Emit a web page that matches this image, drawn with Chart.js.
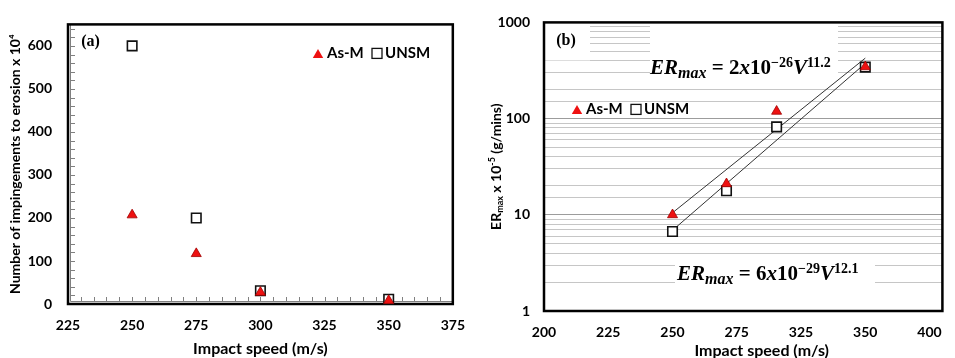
<!DOCTYPE html>
<html lang="en">
  <head>
    <meta charset="UTF-8" />
    <title>Impingements to erosion and maximum erosion rate vs impact speed</title>
    <script src="https://cdn.jsdelivr.net/npm/chart.js"></script>
    <style>
      body {
        margin: 0;
        background-color: #fff;
      }
      .figure {
        position: relative;
        width: 955px;
        height: 358px;
      }
      #chartA {
        position: absolute;
        left: 0;
        top: 0;
      }
      #chartB {
        position: absolute;
        left: 480px;
        top: 0;
      }
    </style>
  </head>
  <body>
    <div class="figure">
      <canvas id="chartA" width="478" height="358"></canvas>
      <canvas id="chartB" width="475" height="358"></canvas>
    </div>

    <script>
      // Panel (a): number of impingements to erosion (x 10^4)
      const speedsA = [250, 275, 300, 350];
      const asmImpingements = [207, 117, 27, 8];
      const unsmImpingements = [600, 200, 31, 11];

      // Panel (b): maximum erosion rate (x 10^-5 g/min)
      const speedTicksB = [200, 225, 250, 275, 325, 350, 400];
      const speedsB = [250, 271, 306, 350];
      const asmErMax = [10, 21, 119, 345];
      const unsmErMax = [6.7, 17.8, 82, 343];

      // Power-law fits, drawn between their end points
      const fitSpeeds = [250, 350];
      const asmFit = [10.5, 425];
      const unsmFit = [6.9, 375];

      const sans = "Lato, 'Open Sans', sans-serif";
      const serif = "'Liberation Serif', 'DejaVu Serif', serif";
      Chart.defaults.font.family = sans;
      Chart.defaults.color = "#000";

      const tickFont = { family: sans, size: 14, weight: "bold" };
      const xTitleFont = { family: sans, size: 16, weight: "bold" };
      const yTitleFont = { family: sans, size: 14, weight: "bold" };

      const asmStyle = {
        pointStyle: "triangle",
        pointRadius: 5.8,
        pointBackgroundColor: "#ee1111",
        pointBorderColor: "#a00000",
        pointBorderWidth: 0.8
      };
      const unsmStyle = {
        pointStyle: "rect",
        pointRadius: 6.7,
        pointBackgroundColor: "#fff",
        pointBorderColor: "#111",
        pointBorderWidth: 1.6
      };

      function toPoints(xs, ys) {
        return xs.map((x, i) => ({ x: x, y: ys[i] }));
      }

      // The speed axis of panel (b) is labelled at uneven steps, so speeds are
      // placed between neighbouring labels.
      function speedToSlot(v) {
        for (let i = 0; i < speedTicksB.length - 1; i++) {
          if (v <= speedTicksB[i + 1]) {
            return i + (v - speedTicksB[i]) / (speedTicksB[i + 1] - speedTicksB[i]);
          }
        }
        return speedTicksB.length - 1;
      }

      function toSlotPoints(xs, ys) {
        return xs.map((x, i) => ({ x: speedToSlot(x), y: ys[i] }));
      }

      function isDecade(v) {
        const l = Math.log10(v);
        return Math.abs(l - Math.round(l)) < 1e-9;
      }

      // Draw a run of text pieces with their own fonts and baseline shifts
      function drawParts(ctx, x, y, parts, center) {
        let total = 0;
        parts.forEach(p => {
          ctx.font = p.font;
          p.w = ctx.measureText(p.t).width;
          total += p.w;
        });
        let cx = center ? x - total / 2 : x;
        ctx.textAlign = "left";
        parts.forEach(p => {
          ctx.font = p.font;
          ctx.fillText(p.t, cx, y + (p.dy || 0));
          cx += p.w;
        });
      }

      function drawTriangle(ctx, x, y, r) {
        ctx.beginPath();
        for (let k = 0; k < 3; k++) {
          const a = (k * 2 * Math.PI) / 3;
          const px = x + Math.sin(a) * r;
          const py = y - Math.cos(a) * r;
          if (k === 0) ctx.moveTo(px, py);
          else ctx.lineTo(px, py);
        }
        ctx.closePath();
        ctx.fillStyle = "#ee1111";
        ctx.fill();
      }

      function drawSquare(ctx, x, y, s) {
        ctx.lineWidth = 1.3;
        ctx.strokeStyle = "#111";
        ctx.strokeRect(x - s / 2, y - s / 2, s, s);
      }

      function drawLegend(ctx, x, y) {
        ctx.save();
        drawTriangle(ctx, x, y + 1.5, 6);
        ctx.fillStyle = "#000";
        ctx.font = "bold 15px " + sans;
        ctx.textBaseline = "middle";
        ctx.textAlign = "left";
        ctx.fillText("As-M", x + 9, y);
        drawSquare(ctx, x + 59, y, 10);
        ctx.fillStyle = "#000";
        ctx.fillText("UNSM", x + 67, y);
        ctx.restore();
      }

      function drawPanelLabel(ctx, text, x, y) {
        ctx.save();
        ctx.fillStyle = "#000";
        ctx.font = "bold 16px " + serif;
        ctx.textAlign = "center";
        ctx.textBaseline = "middle";
        ctx.fillText(text, x, y);
        ctx.restore();
      }

      // Frame, inner axis lines and inward minor ticks for panel (a)
      const panelA = {
        id: "panelA",
        beforeDatasetsDraw(chart) {
          const { ctx, chartArea: a, scales } = chart;
          ctx.save();
          ctx.strokeStyle = "#808080";
          ctx.lineWidth = 1;
          ctx.beginPath();
          ctx.moveTo(a.left + 2.5, a.top);
          ctx.lineTo(a.left + 2.5, a.bottom - 2.5);
          ctx.lineTo(a.right, a.bottom - 2.5);
          for (let v = 20; v < 650; v += 20) {
            const py = Math.round(scales.y.getPixelForValue(v)) + 0.5;
            ctx.moveTo(a.left + 2.5, py);
            ctx.lineTo(a.left + 7, py);
          }
          for (let v = 230; v < 375; v += 5) {
            const px = Math.round(scales.x.getPixelForValue(v)) + 0.5;
            ctx.moveTo(px, a.bottom - 2.5);
            ctx.lineTo(px, a.bottom - 7);
          }
          ctx.stroke();
          ctx.strokeStyle = "#000";
          ctx.lineWidth = 2.5;
          ctx.strokeRect(a.left, a.top, a.right - a.left, a.bottom - a.top);
          ctx.restore();
        },
        afterDraw(chart) {
          const { ctx, chartArea: a } = chart;
          drawPanelLabel(ctx, "(a)", a.left + 22.5, a.top + 17);
          drawLegend(ctx, a.left + 250, a.top + 29);
        }
      };

      const eqItalic = s => "italic bold " + s + "px " + serif;
      const eqUpright = s => "bold " + s + "px " + serif;

      function equationParts(coef, exp, power) {
        return [
          { t: "ER", font: eqItalic(21) },
          { t: "max", font: eqItalic(16), dy: 4 },
          { t: " = " + coef, font: eqUpright(21) },
          { t: "x", font: eqItalic(21) },
          { t: "10", font: eqUpright(21) },
          { t: exp, font: eqUpright(14), dy: -7 },
          { t: "V", font: eqItalic(21) },
          { t: power, font: eqUpright(14), dy: -7 }
        ];
      }

      // White panels, label, fitted equations, frame and titles for panel (b)
      const panelB = {
        id: "panelB",
        beforeDatasetsDraw(chart) {
          const { ctx, chartArea: a } = chart;
          ctx.save();
          ctx.fillStyle = "#fff";
          ctx.fillRect(a.left + 1, a.top + 1, 45, 37);
          ctx.fillRect(a.left + 106, a.top + 1, 188, 57);
          ctx.fillRect(a.left + 131, a.top + 233, 200, 60);

          ctx.fillStyle = "#000";
          ctx.textBaseline = "alphabetic";
          drawParts(ctx, a.left + 106, a.top + 51.5, equationParts("2", "\u221226", "11.2"));
          drawParts(ctx, a.left + 133, a.top + 257.7, equationParts("6", "\u221229", "12.1"));

          ctx.strokeStyle = "#000";
          ctx.lineWidth = 2.5;
          ctx.strokeRect(a.left, a.top, a.right - a.left, a.bottom - a.top);
          ctx.restore();
          drawPanelLabel(ctx, "(b)", a.left + 22, a.top + 18);
        },
        afterDraw(chart) {
          const { ctx, chartArea: a } = chart;
          drawLegend(ctx, a.left + 33, a.top + 87);

          ctx.save();
          ctx.fillStyle = "#000";
          ctx.textBaseline = "middle";
          ctx.font = "bold 16px " + sans;
          ctx.textAlign = "center";
          ctx.fillText("Impact speed (m/s)", 281.7, 350.5);

          ctx.translate(16.7, (a.top + a.bottom) / 2);
          ctx.rotate(-Math.PI / 2);
          drawParts(
            ctx,
            0,
            0,
            [
              { t: "ER", font: "bold 14px " + sans },
              { t: "max", font: "bold 9px " + sans, dy: 3.5 },
              { t: " x 10", font: "bold 14px " + sans },
              { t: "-5", font: "bold 9px " + sans, dy: -4.5 },
              { t: " (g/mins)", font: "bold 14px " + sans }
            ],
            true
          );
          ctx.restore();
        }
      };

      new Chart(document.getElementById("chartA"), {
        type: "scatter",
        data: {
          datasets: [
            Object.assign({ label: "As-M", data: toPoints(speedsA, asmImpingements), clip: false }, asmStyle),
            Object.assign({ label: "UNSM", data: toPoints(speedsA, unsmImpingements), clip: false }, unsmStyle)
          ]
        },
        options: {
          responsive: false,
          animation: false,
          layout: { padding: { top: 12, right: 23, left: 0, bottom: 0 } },
          plugins: { legend: { display: false }, tooltip: { enabled: false } },
          scales: {
            x: {
              type: "linear",
              min: 225,
              max: 375,
              grid: { display: false, drawTicks: false },
              border: { display: false },
              ticks: { stepSize: 25, padding: 13, font: tickFont, color: "#000" },
              title: {
                display: true,
                text: "Impact speed (m/s)",
                font: xTitleFont,
                color: "#000",
                padding: { top: 0, bottom: 0 }
              },
              afterFit(scale) {
                scale.height = 54;
              }
            },
            y: {
              type: "linear",
              min: 0,
              max: 650,
              grid: { display: false, drawTicks: false },
              border: { display: false },
              ticks: { stepSize: 100, includeBounds: false, padding: 16, font: tickFont, color: "#000" },
              title: {
                display: true,
                text: "Number of impingements to erosion x 10\u2074",
                font: yTitleFont,
                color: "#000",
                padding: { top: 7, bottom: 0 }
              },
              afterFit(scale) {
                scale.width = 68;
              }
            }
          }
        },
        plugins: [panelA]
      });

      new Chart(document.getElementById("chartB"), {
        type: "scatter",
        data: {
          datasets: [
            Object.assign({ label: "As-M", data: toSlotPoints(speedsB, asmErMax), clip: false }, asmStyle),
            Object.assign({ label: "UNSM", data: toSlotPoints(speedsB, unsmErMax), clip: false }, unsmStyle),
            {
              label: "As-M fit",
              data: toSlotPoints(fitSpeeds, asmFit),
              showLine: true,
              borderColor: "#333",
              borderWidth: 1,
              pointRadius: 0
            },
            {
              label: "UNSM fit",
              data: toSlotPoints(fitSpeeds, unsmFit),
              showLine: true,
              borderColor: "#333",
              borderWidth: 1,
              pointRadius: 0
            }
          ]
        },
        options: {
          responsive: false,
          animation: false,
          layout: { padding: { top: 14, right: 3, left: 0, bottom: 0 } },
          plugins: { legend: { display: false }, tooltip: { enabled: false } },
          scales: {
            x: {
              type: "linear",
              min: 0,
              max: 6.2,
              grid: { display: false, drawTicks: false },
              border: { display: false },
              ticks: {
                stepSize: 1,
                includeBounds: false,
                autoSkip: false,
                padding: 13,
                font: tickFont,
                color: "#000",
                callback: v => (speedTicksB[v] !== undefined ? speedTicksB[v] : "")
              },
              afterFit(scale) {
                scale.height = 47;
              }
            },
            y: {
              type: "logarithmic",
              min: 1,
              max: 1000,
              grid: {
                drawTicks: false,
                lineWidth: 1,
                color: c => (isDecade(c.tick.value) ? "#9c9c9c" : "#c6c6c6")
              },
              border: { display: false },
              ticks: {
                autoSkip: false,
                padding: 14,
                font: tickFont,
                color: "#000",
                callback: v => (isDecade(v) ? String(v) : "")
              },
              afterFit(scale) {
                scale.width = 64;
              }
            }
          }
        },
        plugins: [panelB]
      });
    </script>
  </body>
</html>
